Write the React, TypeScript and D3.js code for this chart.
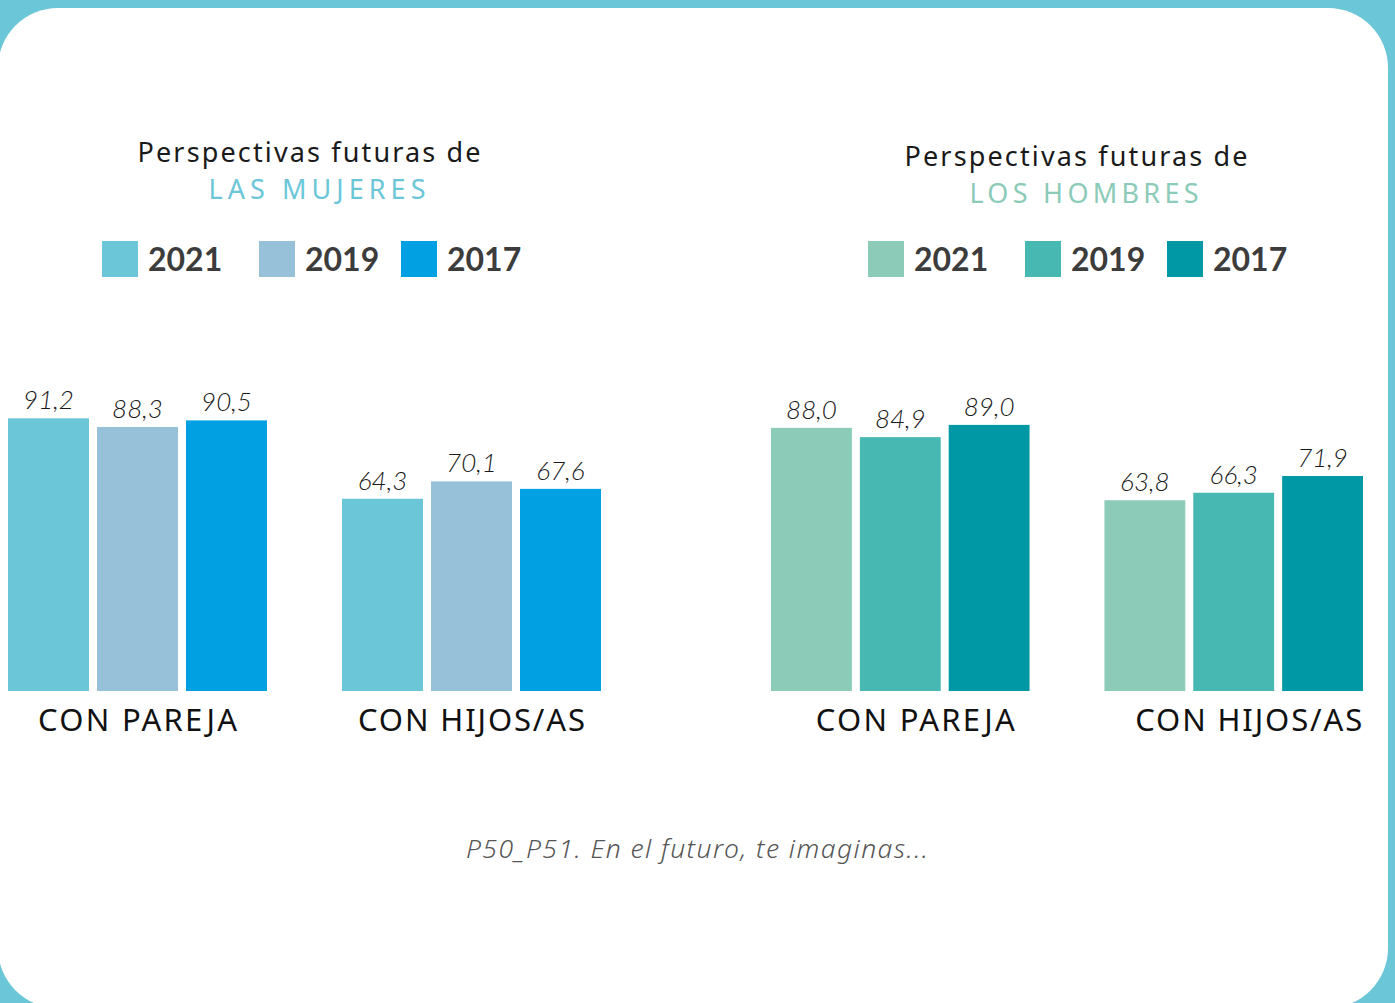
import React from "react";
import * as d3 from "d3";

// categories and years
const categories = ["CON PAREJA", "CON HIJOS/AS"];
const years = ["2021", "2019", "2017"];

// values (per category: 2021, 2019, 2017)
const mujeresPareja = [91.2, 88.3, 90.5];
const mujeresHijos = [64.3, 70.1, 67.6];
const hombresPareja = [88.0, 84.9, 89.0];
const hombresHijos = [63.8, 66.3, 71.9];

const mujeresColors = ["#6bc6d8", "#97c1d8", "#00a0e3"];
const hombresColors = ["#8bcbb8", "#48b8b3", "#0098a4"];

const W = 1395;
const H = 1003;
const FONT = "Lato, 'Noto Sans', sans-serif";
const WIDE = "'Noto Sans', 'Open Sans', sans-serif";
const fmt = (v: number) => d3.format(".1f")(v).replace(".", ",");

// the source font is a wide geometric face, so stretch the spacing to its widths
const catWidth: Record<string, number> = { "CON PAREJA": 199, "CON HIJOS/AS": 227 };

const y = d3.scaleLinear().domain([0, 100]).range([691, 392]);

type PanelProps = {
  x0: number;
  x1: number;
  title: string;
  subtitle: string;
  subColor: string;
  subWidth: number;
  colors: string[];
  values: number[][];
  titleX: number;
  titleY: number;
  legendX: number[];
  labelShift: number;
};

const Panel = ({ x0, x1, title, subtitle, subColor, subWidth, colors, values, titleX, titleY, legendX, labelShift }: PanelProps) => {
  const outer = d3.scaleBand<string>().domain(categories).range([x0, x1]).paddingInner(75 / 334);
  const inner = d3.scaleBand<string>().domain(years).range([0, outer.bandwidth()]).paddingInner(8 / 89);

  return (
    <g>
      <text x={titleX} y={titleY} textAnchor="middle" fontFamily={WIDE} fontSize={27} fill="#1a1a1a"
        textLength={343} lengthAdjust="spacing">
        {title}
      </text>
      <text x={titleX + 8} y={titleY + 37} textAnchor="middle" fontFamily={WIDE} fontSize={27} fill={subColor}
        textLength={subWidth} lengthAdjust="spacing">
        {subtitle}
      </text>

      {years.map((yr, i) => (
        <g key={yr}>
          <rect x={legendX[i]} y={241} width={36} height={36} fill={colors[i]} />
          <text x={legendX[i] + 46} y={271} fontFamily={FONT} fontWeight={700} fontSize={32} fill="#3c3c3c">
            {yr}
          </text>
        </g>
      ))}

      {categories.map((c, ci) => (
        <g key={c} transform={`translate(${outer(c)},0)`}>
          {years.map((yr, i) => {
            const v = values[ci][i];
            return (
              <g key={yr}>
                <rect x={inner(yr)} y={y(v)} width={inner.bandwidth()} height={y(0) - y(v)} fill={colors[i]} />
                <text
                  x={(inner(yr) as number) + inner.bandwidth() / 2}
                  y={y(v) - 9}
                  textAnchor="middle"
                  fontFamily={FONT}
                  fontStyle="italic"
                  fontWeight={300}
                  fontSize={26}
                  fill="#1a1a1a"
                >
                  {fmt(v)}
                </text>
              </g>
            );
          })}
          <text
            x={outer.bandwidth() / 2 + labelShift}
            y={731}
            textAnchor="middle"
            fontFamily={WIDE}
            fontSize={31}
            fill="#111"
            textLength={catWidth[c]}
            lengthAdjust="spacing"
          >
            {c}
          </text>
        </g>
      ))}
    </g>
  );
};

export default function App() {
  return (
    <svg width={W} height={H} style={{ position: "absolute", left: 0, top: 0, display: "block" }}>
      <rect x={0} y={0} width={W} height={H} fill="#6bc6d8" />
      <rect x={-2} y={8} width={1390} height={1000} rx={60} ry={60} fill="#ffffff" />

      <Panel
        x0={8}
        x1={601}
        title="Perspectivas futuras de"
        subtitle="LAS MUJERES"
        subColor="#6bc6d8"
        subWidth={217}
        colors={mujeresColors}
        values={[mujeresPareja, mujeresHijos]}
        titleX={309}
        titleY={162}
        legendX={[102, 259, 401]}
        labelShift={0}
      />
      <Panel
        x0={771}
        x1={1363}
        title="Perspectivas futuras de"
        subtitle="LOS HOMBRES"
        subColor="#8bcbb8"
        subWidth={229}
        colors={hombresColors}
        values={[hombresPareja, hombresHijos]}
        titleX={1076}
        titleY={166}
        legendX={[868, 1025, 1167]}
        labelShift={15}
      />

      <text x={697} y={858} textAnchor="middle" fontFamily={WIDE} fontStyle="italic" fontWeight={300} fontSize={26.5} fill="#555"
        textLength={462} lengthAdjust="spacing">
        P50_P51. En el futuro, te imaginas...
      </text>
    </svg>
  );
}
